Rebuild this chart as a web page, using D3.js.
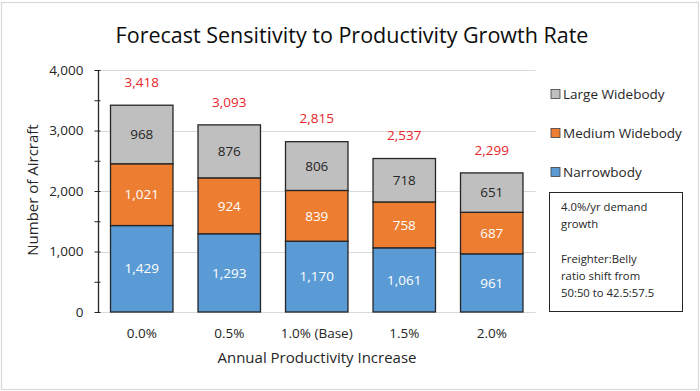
<!DOCTYPE html>
<html>
<head>
<meta charset="utf-8">
<script src="https://cdn.jsdelivr.net/npm/d3@7"></script>
<style>
  html, body { margin: 0; padding: 0; background: #fff; }
  svg { display: block; font-family: "Open Sans", "Noto Sans", sans-serif; }
</style>
</head>
<body>
<svg id="chart" width="700" height="391"></svg>
<script>
const categories = ["0.0%", "0.5%", "1.0% (Base)", "1.5%", "2.0%"];
const seriesNames = ["Narrowbody", "Medium Widebody", "Large Widebody"];
const narrowbody = [1429, 1293, 1170, 1061, 961];
const mediumWidebody = [1021, 924, 839, 758, 687];
const largeWidebody = [968, 876, 806, 718, 651];
const totals = [3418, 3093, 2815, 2537, 2299];
const yTicks = [0, 1000, 2000, 3000, 4000];
const titleText = "Forecast Sensitivity to Productivity Growth Rate";
const yTitle = "Number of Aircraft";
const xTitle = "Annual Productivity Increase";
const noteLines = ["4.0%/yr demand", "growth", "", "Freighter:Belly", "ratio shift from", "50:50 to 42.5:57.5"];

const colors = ["#5B9BD5", "#ED7D31", "#BFBFBF"];
const labelColors = ["#ffffff", "#ffffff", "#262626"];

const svg = d3.select("#chart");
const W = 700, H = 391;

// outer border
svg.append("rect").attr("x", 1.5).attr("y", 2.5).attr("width", W - 3).attr("height", H - 4)
  .attr("fill", "#fff").attr("stroke", "#d9d9d9").attr("stroke-width", 1.2);

const x = d3.scaleBand().domain(categories).range([98, 535.5]).paddingInner(0.286).paddingOuter(0.143);
const y = d3.scaleLinear().domain([0, 4000]).range([312, 70]);

// gridlines
svg.append("g").selectAll("line").data(yTicks.filter(d => d > 0)).join("line")
  .attr("x1", 98).attr("x2", 535.5)
  .attr("y1", d => Math.round(y(d)) + 0.5).attr("y2", d => Math.round(y(d)) + 0.5)
  .attr("stroke", "#d9d9d9").attr("stroke-width", 1);

// x baseline
svg.append("line").attr("x1", 98).attr("x2", 535.5).attr("y1", 312.5).attr("y2", 312.5)
  .attr("stroke", "#d9d9d9").attr("stroke-width", 1);

// stacked data
const rows = categories.map((c, i) => ({ cat: c, Narrowbody: narrowbody[i], "Medium Widebody": mediumWidebody[i], "Large Widebody": largeWidebody[i] }));
const stack = d3.stack().keys(seriesNames)(rows);

const gBars = svg.append("g");
stack.forEach((layer, si) => {
  const g = gBars.append("g");
  g.selectAll("rect").data(layer).join("rect")
    .attr("x", d => x(d.data.cat))
    .attr("width", x.bandwidth())
    .attr("y", d => y(d[1]))
    .attr("height", d => y(d[0]) - y(d[1]))
    .attr("fill", colors[si])
    .attr("stroke", "#262626").attr("stroke-width", 1.3);
  g.selectAll("text").data(layer).join("text")
    .attr("x", d => x(d.data.cat) + x.bandwidth() / 2)
    .attr("y", d => (y(d[0]) + y(d[1])) / 2)
    .attr("dy", "0.35em")
    .attr("text-anchor", "middle")
    .attr("font-size", 13.5)
    .attr("fill", labelColors[si])
    .text(d => d3.format(",")(d[1] - d[0]));
});

// totals
svg.append("g").selectAll("text").data(totals).join("text")
  .attr("x", (d, i) => x(categories[i]) + x.bandwidth() / 2)
  .attr("y", d => y(d) - 23)
  .attr("dy", "0.35em")
  .attr("text-anchor", "middle")
  .attr("font-size", 13.5)
  .attr("fill", "#E8262A")
  .text(d => d3.format(",")(d));

// y axis
const yAxis = d3.axisLeft(y).tickValues(d3.range(0, 4001, 500)).tickSize(5).tickFormat(d => yTicks.includes(d) ? d3.format(",")(d) : "");
const gy = svg.append("g").attr("transform", "translate(98.5,0)").call(yAxis);
gy.select(".domain").attr("stroke", "#262626").attr("stroke-width", 1.3).attr("d", `M0,${y(4000)}V${y(0)}`);
gy.selectAll(".tick line").attr("stroke", "#262626").attr("x1", 2).attr("x2", -4);
gy.selectAll(".tick text").attr("font-size", 13.5).attr("fill", "#262626").attr("x", -15)
  .attr("font-family", "'Open Sans', sans-serif");

// x labels
svg.append("g").selectAll("text").data(categories).join("text")
  .attr("x", d => x(d) + x.bandwidth() / 2)
  .attr("y", 333).attr("dy", "0.35em")
  .attr("text-anchor", "middle").attr("font-size", 13.5).attr("fill", "#262626")
  .text(d => d);

// titles
svg.append("text").attr("x", 352).attr("y", 35).attr("dy", "0.35em").attr("text-anchor", "middle")
  .attr("font-size", 21.5).attr("fill", "#0d0d0d").text(titleText);
svg.append("text").attr("x", 317).attr("y", 358).attr("dy", "0.35em").attr("text-anchor", "middle")
  .attr("font-size", 15).attr("fill", "#262626").text(xTitle);
svg.append("text").attr("transform", "translate(33,190) rotate(-90)").attr("dy", "0.35em").attr("text-anchor", "middle")
  .attr("font-size", 15).attr("fill", "#262626").text(yTitle);

// legend
const legendOrder = [2, 1, 0];
const lg = svg.append("g");
legendOrder.forEach((si, k) => {
  const yy = 94 + k * 39;
  lg.append("rect").attr("x", 551).attr("y", yy - 4.5).attr("width", 9).attr("height", 9)
    .attr("fill", colors[si]).attr("stroke", "#404040").attr("stroke-width", 0.8);
  lg.append("text").attr("x", 563).attr("y", yy).attr("dy", "0.35em").attr("font-size", 13.5)
    .attr("fill", "#262626").text(seriesNames[si]);
});

// note box
svg.append("rect").attr("x", 549.5).attr("y", 192.5).attr("width", 133).attr("height", 119)
  .attr("fill", "#fff").attr("stroke", "#262626").attr("stroke-width", 1);
svg.append("g").selectAll("text").data(noteLines).join("text")
  .attr("x", 561).attr("y", (d, i) => 207 + i * 17.3).attr("dy", "0.35em")
  .attr("font-size", 11.3).attr("fill", "#262626").text(d => d);
</script>
</body>
</html>
